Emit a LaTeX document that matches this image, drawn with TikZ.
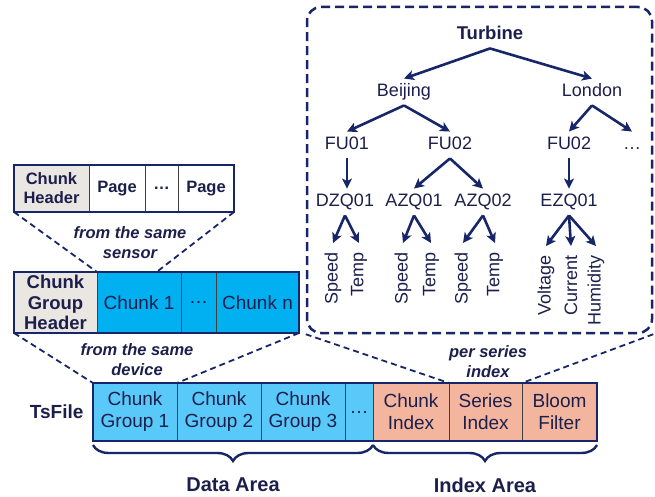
\documentclass[tikz,border=0pt]{standalone}
\usepackage{fontspec}
\setmainfont{Liberation Sans}
\usetikzlibrary{positioning, arrows.meta, decorations.pathreplacing, calc}
\definecolor{tsnavy}{HTML}{172668}
\definecolor{tsink}{HTML}{1C1F4C}
\definecolor{tsheader}{HTML}{EAE6E1}
\definecolor{tschunk}{HTML}{00B0F0}
\definecolor{tsgroup}{HTML}{58C9F9}
\definecolor{tsindex}{HTML}{F4B59E}

\begin{document}
\begin{tikzpicture}[
        x=1pt, y=-1pt,
        every node/.style={text=tsink},
        cell/.style={rectangle, draw=black!75, line width=0.8pt, outer sep=0pt,
            inner sep=0pt, align=center},
        pagecell/.style={cell, minimum height=47pt, fill=white,
            font=\fontsize{16.5}{19}\selectfont\bfseries},
        chunkcell/.style={cell, minimum height=61pt, fill=tschunk,
            font=\fontsize{19}{20.5}\selectfont},
        groupcell/.style={cell, minimum height=58pt, fill=tsgroup,
            font=\fontsize{19}{22}\selectfont},
        indexcell/.style={groupcell, fill=tsindex},
        frame/.style={draw=tsnavy, line width=2pt},
        zoomline/.style={draw=tsnavy, line width=1.8pt, dash pattern=on 6pt off 4pt},
        treebox/.style={draw=tsnavy, line width=2.5pt, dash pattern=on 9pt off 5pt,
            rounded corners=14pt, minimum width=345pt, minimum height=326pt},
        note/.style={align=center, font=\fontsize{16.5}{20}\selectfont\bfseries\itshape},
        arealabel/.style={font=\fontsize{20}{22}\selectfont\bfseries},
        brace/.style={draw=tsnavy, line width=2.4pt,
            decorate, decoration={brace, mirror, amplitude=16pt}},
        tnode/.style={font=\fontsize{18}{20}\selectfont, text height=13pt,
            text depth=3.5pt, inner xsep=1pt, inner ysep=5pt},
        leaf/.style={font=\fontsize{18}{20}\selectfont, rotate=90, anchor=east,
            inner xsep=9pt, inner ysep=0pt},
        branch/.style={draw=tsnavy, line width=2.6pt,
            -{Stealth[length=10pt, width=10pt, inset=2.5pt]}},
        ]
        \useasboundingbox (0,0) rectangle (655,497);

        % Chunk layout
        \node[pagecell, minimum width=75pt, fill=tsheader] (chunkhdr) at (51.5,188.5) {Chunk\\Header};
        \node[pagecell, minimum width=56pt, right=0pt of chunkhdr] (page1) {Page};
        \node[pagecell, minimum width=33pt, right=0pt of page1] (pdots) {…};
        \node[pagecell, minimum width=56pt, right=0pt of pdots] (page2) {Page};
        \draw[frame] (chunkhdr.north west) rectangle (page2.south east);

        % Chunk group layout
        \node[chunkcell, minimum width=83pt, fill=tsheader,
            font=\fontsize{18.5}{20.5}\selectfont\bfseries] (cghdr) at (55.5,302.5)
        {Chunk\\Group\\Header};
        \node[chunkcell, minimum width=84pt, right=0pt of cghdr] (chunk1) {Chunk 1};
        \node[chunkcell, minimum width=35pt, right=0pt of chunk1] (cdots) {…};
        \node[chunkcell, minimum width=83pt, right=0pt of cdots] (chunkn) {Chunk n};
        \draw[frame] (cghdr.north west) rectangle (chunkn.south east);

        % TsFile layout
        \node[groupcell, minimum width=84pt] (cg1) at (135,412) {Chunk\\Group 1};
        \node[groupcell, minimum width=84pt, right=0pt of cg1] (cg2) {Chunk\\Group 2};
        \node[groupcell, minimum width=84pt, right=0pt of cg2] (cg3) {Chunk\\Group 3};
        \node[groupcell, minimum width=28pt, right=0pt of cg3] (tdots) {…};
        \node[indexcell, minimum width=76pt, right=0pt of tdots] (cidx) {Chunk\\Index};
        \node[indexcell, minimum width=73pt, right=0pt of cidx] (sidx) {Series\\Index};
        \node[indexcell, minimum width=75pt, right=0pt of sidx] (bloom) {Bloom\\Filter};
        \draw[frame] (cg1.north west) rectangle (bloom.south east);
        \node[font=\fontsize{19}{20}\selectfont\bfseries, left=6pt of cg1] (tsfile) {TsFile};

        % Areas
        \draw[brace] ([yshift=-4pt]cg1.south west) -- ([yshift=-4pt]tdots.south east);
        \draw[brace] ([yshift=-4pt]cidx.south west) -- ([yshift=-4pt]bloom.south east);
        \node[arealabel] (datalbl) at ($(cg1.south west)!0.5!(tdots.south east)+(0,44)$) {Data Area};
        \node[arealabel] (indexlbl) at ($(cidx.south west)!0.5!(bloom.south east)+(0,44)$) {Index Area};

        % Series index tree
        \node[treebox] (treebox) at (479.5,170) {};

        % Zoom lines
        \draw[zoomline] (chunkhdr.south west) -- (cghdr.north east);
        \draw[zoomline] (page2.south east) -- ($(chunk1.north west)!0.71!(chunk1.north east)$);
        \draw[zoomline] (cghdr.south west) -- (cg1.north west);
        \draw[zoomline] (chunkn.south east) -- (cg1.north east);
        \draw[zoomline] (treebox.south west) -- (sidx.north west);
        \draw[zoomline] (treebox.south east) -- (sidx.north east);
        \node[note] (sensornote) at (130,243) {from the same\\sensor};
        \node[note] (devicenote) at (137,360) {from the same\\device};
        \node[note] (seriesnote) at (488,362) {per series\\index};

        % Tree nodes
        \node[tnode, font=\fontsize{18.5}{20}\selectfont\bfseries] (turbine) at (490,35) {Turbine};
        \node[tnode] (beijing) at (404,92) {Beijing};
        \node[tnode] (london) at (592,92) {London};
        \node[tnode] (fu01) at (347,145) {FU01};
        \node[tnode] (fu02b) at (450,145) {FU02};
        \node[tnode] (fu02l) at (569,145) {FU02};
        \node[tnode] (moreplants) at (632,145) {…};
        \node[tnode] (dzq01) at (345,202) {DZQ01};
        \node[tnode] (azq01) at (414,202) {AZQ01};
        \node[tnode] (azq02) at (483,202) {AZQ02};
        \node[tnode] (ezq01) at (569,202) {EZQ01};

        % Leaves
        \node[leaf] (dspeed) at (333,243) {Speed};
        \node[leaf] (dtemp) at (359,243) {Temp};
        \node[leaf] (a1speed) at (403,243) {Speed};
        \node[leaf] (a1temp) at (431,243) {Temp};
        \node[leaf] (a2speed) at (463,243) {Speed};
        \node[leaf] (a2temp) at (495,243) {Temp};
        \node[leaf] (voltage) at (546,246) {Voltage};
        \node[leaf] (current) at (571,246) {Current};
        \node[leaf] (humidity) at (596,246) {Humidity};

        % Tree edges
        \draw[branch] (turbine.south) -- (beijing.north);
        \draw[branch] (turbine.south) -- (london.north);
        \draw[branch] (beijing.south) -- (fu01.north);
        \draw[branch] (beijing.south) -- (fu02b.north);
        \draw[branch] (london.south) -- (fu02l.north);
        \draw[branch] (london.south) -- (moreplants.north);
        \draw[branch] (fu01.south) -- (fu01.south |- dzq01.north);
        \draw[branch] (fu02b.south) -- (azq01.north);
        \draw[branch] (fu02b.south) -- (azq02.north);
        \draw[branch] (fu02l.south) -- (ezq01.north);
        \foreach \from/\to in {dzq01/dspeed, dzq01/dtemp, azq01/a1speed, azq01/a1temp,
                azq02/a2speed, azq02/a2temp, ezq01/voltage, ezq01/current, ezq01/humidity}
            \draw[branch] (\from.south) -- (\to.east);
    \end{tikzpicture}
\end{document}
